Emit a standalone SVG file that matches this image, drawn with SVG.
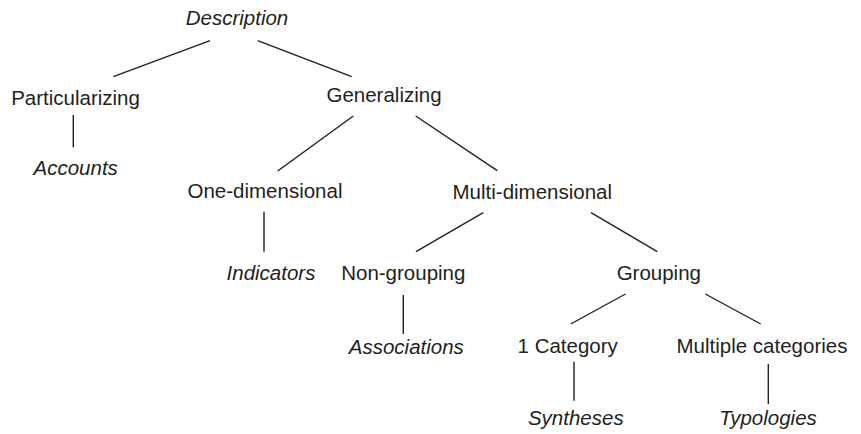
<svg xmlns="http://www.w3.org/2000/svg" width="861" height="434" viewBox="0 0 861 434">
<style>
text { font-family: "Liberation Sans", Arial, Helvetica, sans-serif; font-size: 20.5px; fill: #231f20; text-anchor: middle; }
.it { font-style: italic; }
.conn line { stroke: #231f20; stroke-width: 1.4; stroke-linecap: butt; }
</style>
<rect width="861" height="434" fill="#ffffff"/>
<g id="connectors" class="conn">
  <line x1="210" y1="40.7" x2="113.3" y2="76.7"/>
  <line x1="257.7" y1="40.7" x2="351.7" y2="76.7"/>
  <line x1="73.3" y1="115" x2="73.3" y2="147.3"/>
  <line x1="353.3" y1="116" x2="277.7" y2="171"/>
  <line x1="415.7" y1="116" x2="497.3" y2="170.7"/>
  <line x1="264" y1="211.7" x2="264" y2="251.7"/>
  <line x1="483.3" y1="212.7" x2="416" y2="251.7"/>
  <line x1="591" y1="212.7" x2="657.3" y2="251.7"/>
  <line x1="403.3" y1="295" x2="403.3" y2="334"/>
  <line x1="625.5" y1="294" x2="570.7" y2="324"/>
  <line x1="705.3" y1="294" x2="760.7" y2="324"/>
  <line x1="574" y1="361.7" x2="574" y2="400.7"/>
  <line x1="768.3" y1="364" x2="768.3" y2="404"/>
</g>
<g id="description"><text class="it" x="237" y="25">Description</text></g>
<g id="particularizing"><text x="75.5" y="104.5">Particularizing</text></g>
<g id="accounts"><text class="it" x="75.7" y="175">Accounts</text></g>
<g id="generalizing"><text x="384" y="102">Generalizing</text></g>
<g id="one-dimensional"><text x="265" y="198">One-dimensional</text></g>
<g id="indicators"><text class="it" x="271" y="279.5">Indicators</text></g>
<g id="multi-dimensional"><text x="532.3" y="198.5">Multi-dimensional</text></g>
<g id="non-grouping"><text x="403.3" y="280">Non-grouping</text></g>
<g id="grouping"><text x="658.8" y="280">Grouping</text></g>
<g id="associations"><text class="it" x="406.3" y="354">Associations</text></g>
<g id="one-category"><text x="567.7" y="353">1 Category</text></g>
<g id="multiple-categories"><text x="762" y="353">Multiple categories</text></g>
<g id="syntheses"><text class="it" x="575.8" y="424.5">Syntheses</text></g>
<g id="typologies"><text class="it" x="768" y="425">Typologies</text></g>
</svg>
